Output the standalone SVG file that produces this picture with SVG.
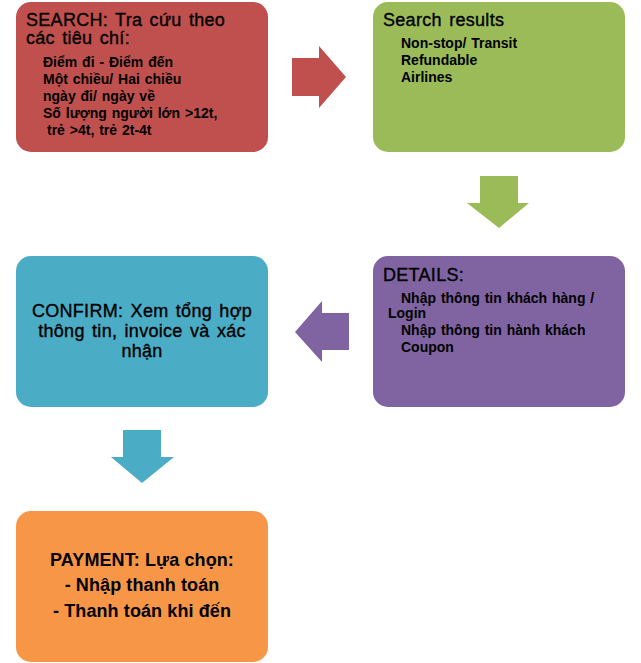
<svg xmlns="http://www.w3.org/2000/svg" width="641" height="663" viewBox="0 0 641 663">
<style>
  text { font-family: "Liberation Sans", Arial, sans-serif; fill: #000; }
  .t { font-size: 18px; word-spacing: 2px; letter-spacing: 0.3px; stroke: #000; stroke-width: 0.35px; }
  .s { font-size: 14px; font-weight: bold; word-spacing: 1px; }
  .c { font-size: 18px; text-anchor: middle; word-spacing: 2px; letter-spacing: 0.3px; stroke: #000; stroke-width: 0.35px; }
  .p { font-size: 18px; font-weight: bold; text-anchor: middle; letter-spacing: 0.1px; }
</style>
<rect width="641" height="663" fill="#ffffff"/>
<g id="search">
  <rect x="16" y="2" width="252" height="150" rx="15" fill="#C0504D"/>
  <text class="t" x="26" y="26">SEARCH: Tra cứu theo</text>
  <text class="t" x="26" y="44">các tiêu chí:</text>
  <text class="s" x="43" y="67">Điểm đi - Điểm đến</text>
  <text class="s" x="43" y="84">Một chiều/ Hai chiều</text>
  <text class="s" x="43" y="101">ngày đi/ ngày về</text>
  <text class="s" x="43" y="118">Số lượng người lớn &gt;12t,</text>
  <text class="s" x="47" y="135">trẻ &gt;4t, trẻ 2t-4t</text>
</g>
<g id="results">
  <rect x="373" y="2" width="252" height="150" rx="15" fill="#9BBB59"/>
  <text class="t" x="383" y="26">Search results</text>
  <text class="s" x="401" y="48">Non-stop/ Transit</text>
  <text class="s" x="401" y="65">Refundable</text>
  <text class="s" x="401" y="82">Airlines</text>
</g>
<g id="details">
  <rect x="373" y="256" width="252" height="151" rx="15" fill="#8064A2"/>
  <text class="t" x="383" y="281">DETAILS:</text>
  <text class="s" x="401" y="303">Nhập thông tin khách hàng /</text>
  <text class="s" x="388" y="318">Login</text>
  <text class="s" x="401" y="335">Nhập thông tin hành khách</text>
  <text class="s" x="401" y="352">Coupon</text>
</g>
<g id="confirm">
  <rect x="16" y="256" width="252" height="151" rx="15" fill="#4BACC6"/>
  <text class="c" x="142" y="317">CONFIRM: Xem tổng hợp</text>
  <text class="c" x="142" y="337">thông tin, invoice và xác</text>
  <text class="c" x="142" y="357">nhận</text>
</g>
<g id="payment">
  <rect x="16" y="511" width="252" height="151" rx="15" fill="#F79646"/>
  <text class="p" x="142" y="566">PAYMENT: Lựa chọn:</text>
  <text class="p" x="142" y="591">- Nhập thanh toán</text>
  <text class="p" x="142" y="617">- Thanh toán khi đến</text>
</g>
<g id="connectors">
  <polygon points="292,58 319,58 319,46 346,77 319,108 319,96 292,96" fill="#C0504D"/>
  <polygon points="480,176 518,176 518,203 529,203 499,228 467,203 480,203" fill="#9BBB59"/>
  <polygon points="349,313 322,313 322,301 295,332 322,362 322,350 349,350" fill="#8064A2"/>
  <polygon points="123,430 161,430 161,457 174,457 142,483 111,457 123,457" fill="#4BACC6"/>
</g>
</svg>
